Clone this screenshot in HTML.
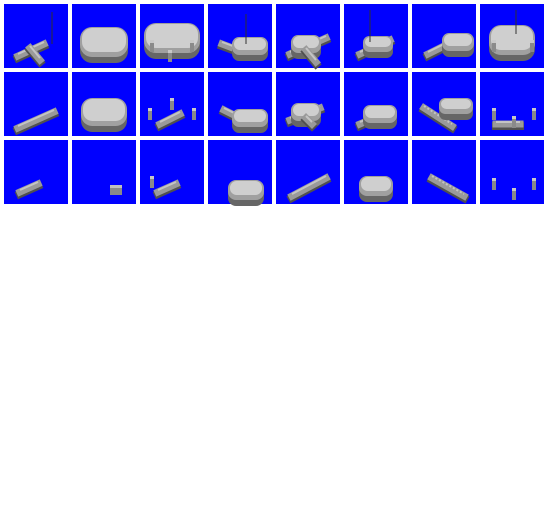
<!DOCTYPE html>
<html><head><meta charset="utf-8"><style>
html,body{margin:0;padding:0;background:#fff;width:548px;height:512px;overflow:hidden}
svg{display:block}
</style></head><body>
<svg id="s" width="548" height="512" xmlns="http://www.w3.org/2000/svg"></svg>
<script>
const NS="http://www.w3.org/2000/svg";
const svg=document.getElementById('s');
// tile contents: [type, x, y, w, h] in tile-local coords
const tiles=[
 [["pipe",14,52,40,40],["pipe",26,44,36,56],["ant",48,8,48,40]],
 [["pod",32,38,48,30]],
 [["pod",32,34,56,30],["pin",12,44],["pin",52,44],["pin",30,54]],
 [["pipe",14,40,30,46],["pod",42,42,36,18],["ant",38,10,38,40]],
 [["pipe",14,50,50,34],["pod",30,40,30,18],["pipe",30,46,40,58]],
 [["pipe",16,50,46,36],["pod",34,40,30,16],["ant",26,6,26,38]],
 [["pipe",16,50,40,38],["pod",46,38,32,18]],
 [["pod",32,36,46,30],["pin",14,44],["pin",52,44],["ant",36,6,36,30]],
 [["pipe",14,56,50,40]],
 [["pod",32,40,46,28]],
 [["pipe",20,52,40,42],["pin",10,44],["pin",32,34],["pin",54,44]],
 [["pipe",16,38,36,48],["pod",42,46,36,18]],
 [["pipe",14,48,44,36],["pod",30,40,30,18],["pipe",30,46,36,52]],
 [["pipe",16,52,30,46],["pod",36,42,34,18]],
 [["rib",12,36,40,54],["pod",44,34,34,16]],
 [["pipe",16,52,40,52],["pin",14,44],["pin",34,52],["pin",54,44]],
 [["pipe",16,52,34,44]],
 [["box",44,50,12,10]],
 [["pin",12,44],["pipe",18,52,36,44]],
 [["pod",38,50,36,20]],
 [["pipe",16,56,50,38]],
 [["pod",32,46,34,20]],
 [["rib",20,38,52,56]],
 [["pin",14,46],["pin",34,56],["pin",54,46]]
];
function el(t,a,p){const e=document.createElementNS(NS,t);for(const k in a)e.setAttribute(k,a[k]);(p||svg).appendChild(e);return e;}
tiles.forEach((items,i)=>{
 const c=i%8,r=Math.floor(i/8);
 const g=el('g',{transform:`translate(${4+c*68},${4+r*68})`});
 
 
 el('rect',{x:0,y:0,width:64,height:64,fill:'#0000ff'},g);
 items.forEach(it=>{
  const [t,x,y,a,b]=it;
  if(t==='pipe'||t==='rib'){
   el('line',{x1:x,y1:y+2,x2:a,y2:b+2,stroke:'#505050','stroke-width':8,'stroke-linecap':'square'},g);
   el('line',{x1:x,y1:y,x2:a,y2:b,stroke:'#9a9a9a','stroke-width':7,'stroke-linecap':'square'},g);
   el('line',{x1:x,y1:y-2,x2:a,y2:b-2,stroke:'#c4c4c4','stroke-width':2,'stroke-dasharray':t==='rib'?'2 2':'none'},g);
  } else if(t==='pod'){
   el('rect',{x:x-a/2,y:y-b/2+6,width:a,height:b,rx:b/2.5,fill:'#666'},g);
   el('rect',{x:x-a/2,y:y-b/2,width:a,height:b,rx:b/2.5,fill:'#a0a0a0'},g);
   el('rect',{x:x-a/2+2,y:y-b/2+1,width:a-4,height:b-6,rx:b/3,fill:'#cfcfcf'},g);
  } else if(t==='pin'){
   el('rect',{x:x-2,y:y-8,width:4,height:12,fill:'#8a8a8a'},g);
   el('rect',{x:x-2,y:y-8,width:4,height:3,fill:'#c8c8c8'},g);
  } else if(t==='ant'){
   el('line',{x1:x,y1:y,x2:a,y2:b,stroke:'#303030','stroke-width':1},g);
  } else if(t==='box'){
   el('rect',{x:x-a/2,y:y-b/2,width:a,height:b,fill:'#8a8a8a'},g);
   el('rect',{x:x-a/2,y:y-b/2,width:a,height:3,fill:'#c0c0c0'},g);
  }
 });
});
</script>
</body></html>
